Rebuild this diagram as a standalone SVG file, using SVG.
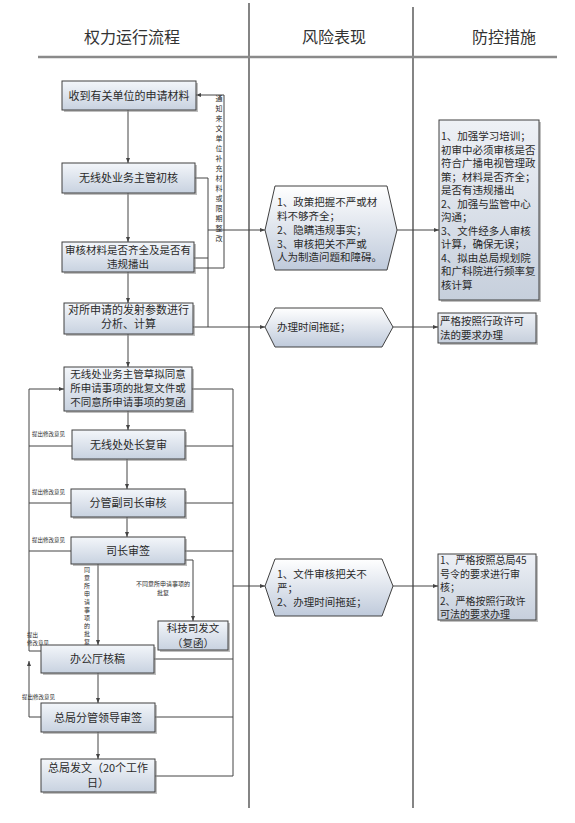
<svg xmlns="http://www.w3.org/2000/svg" width="575" height="823" viewBox="0 0 575 823">
<defs>
<linearGradient id="gBox" x1="0" y1="0" x2="0" y2="1"><stop offset="0" stop-color="#f3f6fa"/><stop offset="1" stop-color="#c8d2e0"/></linearGradient>
<linearGradient id="gHex" x1="0" y1="0" x2="0" y2="1"><stop offset="0" stop-color="#ffffff"/><stop offset="1" stop-color="#bfcadb"/></linearGradient>
<linearGradient id="gR" x1="0" y1="0" x2="0" y2="1"><stop offset="0" stop-color="#eef1f6"/><stop offset="1" stop-color="#c6cfdc"/></linearGradient>
<marker id="ar" viewBox="0 0 10 10" refX="10" refY="5" markerWidth="5" markerHeight="5" orient="auto"><path d="M0,1 L10,5 L0,9 z" fill="#444"/></marker>
</defs>
<style>
text{font-family:"Noto Sans CJK SC","Noto Sans",sans-serif;fill:#2a2a2a}
.hd{font-size:16px;fill:#333;text-anchor:middle}
.bt{font-size:11px;text-anchor:middle}
.st{font-size:10.5px}
.lb{font-size:5.5px}
.vt{font-size:7px;text-anchor:middle}
.vs{font-size:6px;text-anchor:middle}
.box{fill:url(#gBox);stroke:#404040;stroke-width:1}
.hex{fill:url(#gHex);stroke:#404040;stroke-width:1}
.rb{fill:url(#gR);stroke:#404040;stroke-width:1}
.sh{fill:#8a8a8a;opacity:0.55}
.ln{fill:none;stroke:#444;stroke-width:1}
.ar{marker-end:url(#ar)}
.col{stroke:#333;stroke-width:1.2}
</style>
<rect width="575" height="823" fill="#ffffff"/>
<g id="header">
<line class="col" x1="249" y1="3" x2="249" y2="808"/>
<line class="col" x1="413" y1="7" x2="413" y2="808"/>
<line x1="38" y1="57" x2="557" y2="57" stroke="#8a8a8a" stroke-width="2.5"/>
<text class="hd" x="132" y="43">权力运行流程</text>
<text class="hd" x="334" y="43">风险表现</text>
<text class="hd" x="504" y="43">防控措施</text>
</g>
<g id="connectors">
<path class="ln ar" d="M128,110 V163"/>
<path class="ln ar" d="M128,193 V242"/>
<path class="ln ar" d="M128,272 V303"/>
<path class="ln ar" d="M128,334 V367"/>
<path class="ln ar" d="M128,411 V430"/>
<path class="ln ar" d="M127,459 V489"/>
<path class="ln ar" d="M127,517 V537"/>
<path class="ln ar" d="M98,564 V645"/>
<path class="ln ar" d="M185,560 H193 V621"/>
<path class="ln ar" d="M98,673 V703"/>
<path class="ln ar" d="M98,732 V759"/>
<path class="ln" d="M195,178 H208 V327"/>
<path class="ln" d="M194,258 H208"/>
<path class="ln ar" d="M208,230 H265"/>
<path class="ln ar" d="M193,327 H265"/>
<path class="ln ar" d="M194,268 H224 V95 H196"/>
<path class="ln" d="M192,389 H233 V776"/>
<path class="ln" d="M185,446 H233"/>
<path class="ln" d="M185,503 H233"/>
<path class="ln" d="M185,551 H233"/>
<path class="ln" d="M154,659 H233"/>
<path class="ln" d="M155,717 H233"/>
<path class="ln" d="M155,776 H233"/>
<path class="ln ar" d="M233,586 H265"/>
<path class="ln ar" d="M29,651 V389 H64"/>
<path class="ln" d="M72,446 H29"/>
<path class="ln" d="M71,503 H29"/>
<path class="ln" d="M71,551 H29"/>
<path class="ln" d="M41,651 H29"/>
<path class="ln ar" d="M41,717 H29 V661"/>
<path class="ln ar" d="M397,230 H439"/>
<path class="ln ar" d="M393,327 H438"/>
<path class="ln ar" d="M393,586 H438"/>
<text class="vt" x="219" y="101">通</text><text class="vt" x="219" y="111">知</text><text class="vt" x="219" y="121">来</text><text class="vt" x="219" y="131">文</text><text class="vt" x="219" y="141">单</text><text class="vt" x="219" y="151">位</text><text class="vt" x="219" y="161">补</text><text class="vt" x="219" y="171">充</text><text class="vt" x="219" y="181">材</text><text class="vt" x="219" y="191">料</text><text class="vt" x="219" y="201">或</text><text class="vt" x="219" y="211">限</text><text class="vt" x="219" y="221">期</text><text class="vt" x="219" y="231">整</text><text class="vt" x="219" y="241">改</text>
<text class="lb" x="32" y="436">提出修改意见</text>
<text class="lb" x="32" y="494">提出修改意见</text>
<text class="lb" x="32" y="542">提出修改意见</text>
<text class="lb" x="27" y="637">提出</text>
<text class="lb" x="27" y="645">修改意见</text>
<text class="lb" x="22" y="699">提出修改意见</text>
<text class="vs" x="87" y="572">同</text><text class="vs" x="87" y="580">意</text><text class="vs" x="87" y="588">所</text><text class="vs" x="87" y="596">申</text><text class="vs" x="87" y="604">请</text><text class="vs" x="87" y="612">事</text><text class="vs" x="87" y="620">项</text><text class="vs" x="87" y="628">的</text><text class="vs" x="87" y="636">批</text><text class="vs" x="87" y="644">复</text>
<text class="lb" x="136" y="586" style="font-size:6px">不同意所申请事项的</text>
<text class="lb" x="163" y="595" style="font-size:6px;text-anchor:middle">批复</text>
</g>
<g id="n1"><rect class="sh" x="64" y="83" width="134" height="29"/><rect class="box" x="62" y="81" width="134" height="29"/><text class="bt" x="129" y="99.5">收到有关单位的申请材料</text></g>
<g id="n2"><rect class="sh" x="64" y="165" width="133" height="30"/><rect class="box" x="62" y="163" width="133" height="30"/><text class="bt" x="128.5" y="182">无线处业务主管初核</text></g>
<g id="n3"><rect class="sh" x="64" y="244" width="132" height="30"/><rect class="box" x="62" y="242" width="132" height="30"/><text class="bt" x="128" y="254" style="font-size:10.5px">审核材料是否齐全及是否有</text><text class="bt" x="128" y="268" style="font-size:10.5px">违规播出</text></g>
<g id="n4"><rect class="sh" x="66" y="305" width="129" height="31"/><rect class="box" x="64" y="303" width="129" height="31"/><text class="bt" x="128.5" y="313.5">对所申请的发射参数进行</text><text class="bt" x="128.5" y="328">分析、计算</text></g>
<g id="n5"><rect class="sh" x="66" y="369" width="128" height="44"/><rect class="box" x="64" y="367" width="128" height="44"/><text class="bt" x="128" y="378" style="font-size:10.5px">无线处业务主管草拟同意</text><text class="bt" x="128" y="392" style="font-size:10.5px">所申请事项的批复文件或</text><text class="bt" x="128" y="406" style="font-size:10.5px">不同意所申请事项的复函</text></g>
<g id="n6"><rect class="sh" x="74" y="432" width="113" height="29"/><rect class="box" x="72" y="430" width="113" height="29"/><text class="bt" x="128.5" y="448.5">无线处处长复审</text></g>
<g id="n7"><rect class="sh" x="73" y="491" width="114" height="28"/><rect class="box" x="71" y="489" width="114" height="28"/><text class="bt" x="128" y="507">分管副司长审核</text></g>
<g id="n8"><rect class="sh" x="73" y="539" width="114" height="27"/><rect class="box" x="71" y="537" width="114" height="27"/><text class="bt" x="128" y="554.5">司长审签</text></g>
<g id="n10"><rect class="sh" x="160" y="623" width="70" height="29"/><rect class="box" x="158" y="621" width="70" height="29"/><text class="bt" x="193" y="632" style="font-size:10.5px">科技司发文</text><text class="bt" x="193" y="647" style="font-size:10.5px">（复函）</text></g>
<g id="n9"><rect class="sh" x="43" y="647" width="113" height="28"/><rect class="box" x="41" y="645" width="113" height="28"/><text class="bt" x="97.5" y="663">办公厅核稿</text></g>
<g id="n11"><rect class="sh" x="43" y="705" width="114" height="29"/><rect class="box" x="41" y="703" width="114" height="29"/><text class="bt" x="98" y="721.5">总局分管领导审签</text></g>
<g id="n12"><rect class="sh" x="43" y="761" width="114" height="33"/><rect class="box" x="41" y="759" width="114" height="33"/><text class="bt" x="98" y="772">总局发文（20个工作</text><text class="bt" x="98" y="787">日）</text></g>
<g id="r1"><polygon class="hex" points="265,230 275,186 387,186 397,230 387,270 275,270"/><text class="st" x="277" y="206">1、政策把握不严或材</text><text class="st" x="277" y="219.5">料不够齐全；</text><text class="st" x="277" y="234">2、隐瞒违规事实；</text><text class="st" x="277" y="247.5">3、审核把关不严或</text><text class="st" x="277" y="261">人为制造问题和障碍。</text></g>
<g id="r2"><polygon class="hex" points="265,327 275,308 382,308 393,327 382,347 275,347"/><text class="st" x="277" y="331">办理时间拖延；</text></g>
<g id="r3"><polygon class="hex" points="265,586 275,559 382,559 393,586 382,616 275,616"/><text class="st" x="277" y="578">1、文件审核把关不</text><text class="st" x="277" y="592">严；</text><text class="st" x="277" y="606">2、办理时间拖延；</text></g>
<g id="m1"><rect class="sh" x="441" y="122" width="100" height="180"/><rect class="rb" x="439" y="120" width="100" height="180"/>
<text class="st" x="441" y="140">1、加强学习培训；</text><text class="st" x="441" y="153.5">初审中必须审核是否</text><text class="st" x="441" y="167">符合广播电视管理政</text><text class="st" x="441" y="180.5">策；材料是否齐全；</text><text class="st" x="441" y="194">是否有违规播出</text><text class="st" x="441" y="207.5">2、加强与监管中心</text><text class="st" x="441" y="221">沟通；</text><text class="st" x="441" y="234.5">3、文件经多人审核</text><text class="st" x="441" y="248">计算，确保无误；</text><text class="st" x="441" y="261.5">4、拟由总局规划院</text><text class="st" x="441" y="275">和广科院进行频率复</text><text class="st" x="441" y="288.5">核计算</text></g>
<g id="m2"><rect class="sh" x="440" y="315" width="98" height="30"/><rect class="rb" x="438" y="313" width="98" height="30"/><text class="st" x="440" y="324.5">严格按照行政许可</text><text class="st" x="440" y="338.5">法的要求办理</text></g>
<g id="m3"><rect class="sh" x="440" y="556" width="98" height="66"/><rect class="rb" x="438" y="554" width="98" height="66"/><text class="st" x="440" y="564" style="font-size:10px">1、严格按照总局45</text><text class="st" x="440" y="577.5" style="font-size:10px">号令的要求进行审</text><text class="st" x="440" y="591" style="font-size:10px">核；</text><text class="st" x="440" y="604.5" style="font-size:10px">2、严格按照行政许</text><text class="st" x="440" y="618" style="font-size:10px">可法的要求办理</text></g>
</svg>
